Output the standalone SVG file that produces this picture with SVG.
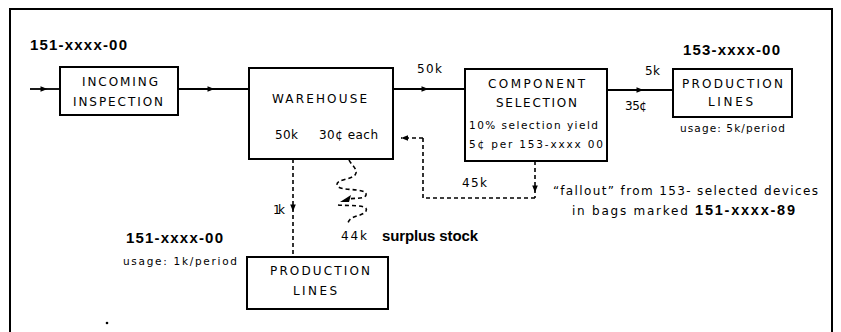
<svg xmlns="http://www.w3.org/2000/svg" width="841" height="332" viewBox="0 0 841 332">
<style>
.box{fill:#fff;stroke:#000;stroke-width:2}
.ln{fill:none;stroke:#000;stroke-width:1.8}
.dash{fill:none;stroke:#000;stroke-width:1.6;stroke-dasharray:4 3}
.t{font-family:"DejaVu Sans","Liberation Sans",sans-serif;font-size:12px;fill:#000}
.b{font-family:"Liberation Sans",Arial,sans-serif;font-weight:bold;font-size:15px}
.s{font-size:10.5px}
</style>
<defs>
<marker id="a" viewBox="0 0 10 10" refX="5" refY="5" markerWidth="9" markerHeight="7" markerUnits="userSpaceOnUse" orient="auto">
<path d="M0 1 L10 5 L0 9 Z" fill="#000"/>
</marker>
<marker id="ae" viewBox="0 0 10 10" refX="10" refY="5" markerWidth="10" markerHeight="7" markerUnits="userSpaceOnUse" orient="auto">
<path d="M0 1 L10 5 L0 9 Z" fill="#000"/>
</marker>
</defs>
<rect x="10" y="9" width="822" height="330" fill="none" stroke="#000" stroke-width="2"/>
<g id="connectors">
<path class="ln" d="M30 89 L44 89 L60 89" marker-mid="url(#a)"/>
<path class="ln" d="M178 89 L211 89 L249 89" marker-mid="url(#a)"/>
<path class="ln" d="M393 89 L425 89 L465 89" marker-mid="url(#a)"/>
<path class="ln" d="M607 90 L640 90 L673 90" marker-mid="url(#a)"/>
<path class="dash" d="M535 161 L535 189 L535 198" marker-mid="url(#a)"/>
<path class="dash" d="M535 198 L423 198 L423 138"/>
<path class="dash" d="M423 138 L401 138" marker-end="url(#ae)"/>
<path class="dash" d="M293 159 L293 208 L293 257" marker-mid="url(#a)"/>
<path class="dash" d="M349 160 C352 166 359 170 355 175 C351 180 336 179 337 185 C338 192 368 187 366 195 C365 199 355 198 347 199"/>
<path d="M340 202 L351 195 L349 202 Z" fill="#000"/>
<path class="dash" d="M338 205 C346 206 370 204 366 211 C362 217 350 215 348 223"/>
</g>
<g id="incoming">
<rect class="box" x="60" y="67" width="118" height="48"/>
<text class="t" x="82" y="86" textLength="76" lengthAdjust="spacing">INCOMING</text>
<text class="t" x="73" y="106" textLength="90" lengthAdjust="spacing">INSPECTION</text>
</g>
<g id="warehouse">
<rect class="box" x="249" y="68" width="144" height="91"/>
<text class="t" x="272" y="103" textLength="95" lengthAdjust="spacing">WAREHOUSE</text>
<text class="t" x="275" y="139" textLength="23" lengthAdjust="spacing">50k</text>
<text class="t" x="319" y="139" textLength="59" lengthAdjust="spacing">30¢ each</text>
</g>
<g id="component">
<rect class="box" x="465" y="69" width="142" height="92"/>
<text class="t" x="488" y="88" textLength="97" lengthAdjust="spacing">COMPONENT</text>
<text class="t" x="496" y="107" textLength="81" lengthAdjust="spacing">SELECTION</text>
<text class="t s" x="469" y="129" textLength="129" lengthAdjust="spacing">10% selection yield</text>
<text class="t s" x="469" y="148" textLength="134" lengthAdjust="spacing">5¢ per 153-xxxx 00</text>
</g>
<g id="prod1">
<rect class="box" x="673" y="69" width="119" height="48"/>
<text class="t" x="682" y="88" textLength="101" lengthAdjust="spacing">PRODUCTION</text>
<text class="t" x="708" y="106" textLength="45" lengthAdjust="spacing">LINES</text>
</g>
<g id="prod2">
<rect class="box" x="247" y="257" width="141" height="52"/>
<text class="t" x="270" y="275" textLength="100" lengthAdjust="spacing">PRODUCTION</text>
<text class="t" x="293" y="295" textLength="44" lengthAdjust="spacing">LINES</text>
</g>
<g id="labels">
<text class="t b" x="30" y="50" textLength="97" lengthAdjust="spacing">151-xxxx-00</text>
<text class="t" x="417" y="73" textLength="25" lengthAdjust="spacing">50k</text>
<text class="t" x="645" y="75" textLength="15" lengthAdjust="spacing">5k</text>
<text class="t" x="625" y="110" textLength="22" lengthAdjust="spacing">35¢</text>
<text class="t b" x="683" y="55" textLength="97" lengthAdjust="spacing">153-xxxx-00</text>
<text class="t s" x="680" y="132" textLength="105" lengthAdjust="spacing">usage: 5k/period</text>
<text class="t" x="462" y="187" textLength="25" lengthAdjust="spacing">45k</text>
<text class="t" x="553" y="195" font-size="13" textLength="265" lengthAdjust="spacing">“fallout” from 153- selected devices</text>
<text class="t" x="572" y="215" font-size="13" textLength="223" lengthAdjust="spacing">in bags marked <tspan font-family="Liberation Sans, Arial, sans-serif" font-size="14.5" font-weight="bold">151-xxxx-89</tspan></text>
<text class="t" x="273" y="214" textLength="12" lengthAdjust="spacing">1k</text>
<text class="t" x="341" y="240" font-size="12.5" textLength="26" lengthAdjust="spacing">44k</text>
<text class="t b" x="382" y="241" textLength="96" lengthAdjust="spacing">surplus stock</text>
<text class="t b" x="126" y="243" textLength="97" lengthAdjust="spacing">151-xxxx-00</text>
<text class="t s" x="123" y="265" textLength="114" lengthAdjust="spacing">usage: 1k/period</text>
<circle cx="107" cy="323" r="1.3" fill="#000"/>
</g>
</svg>
